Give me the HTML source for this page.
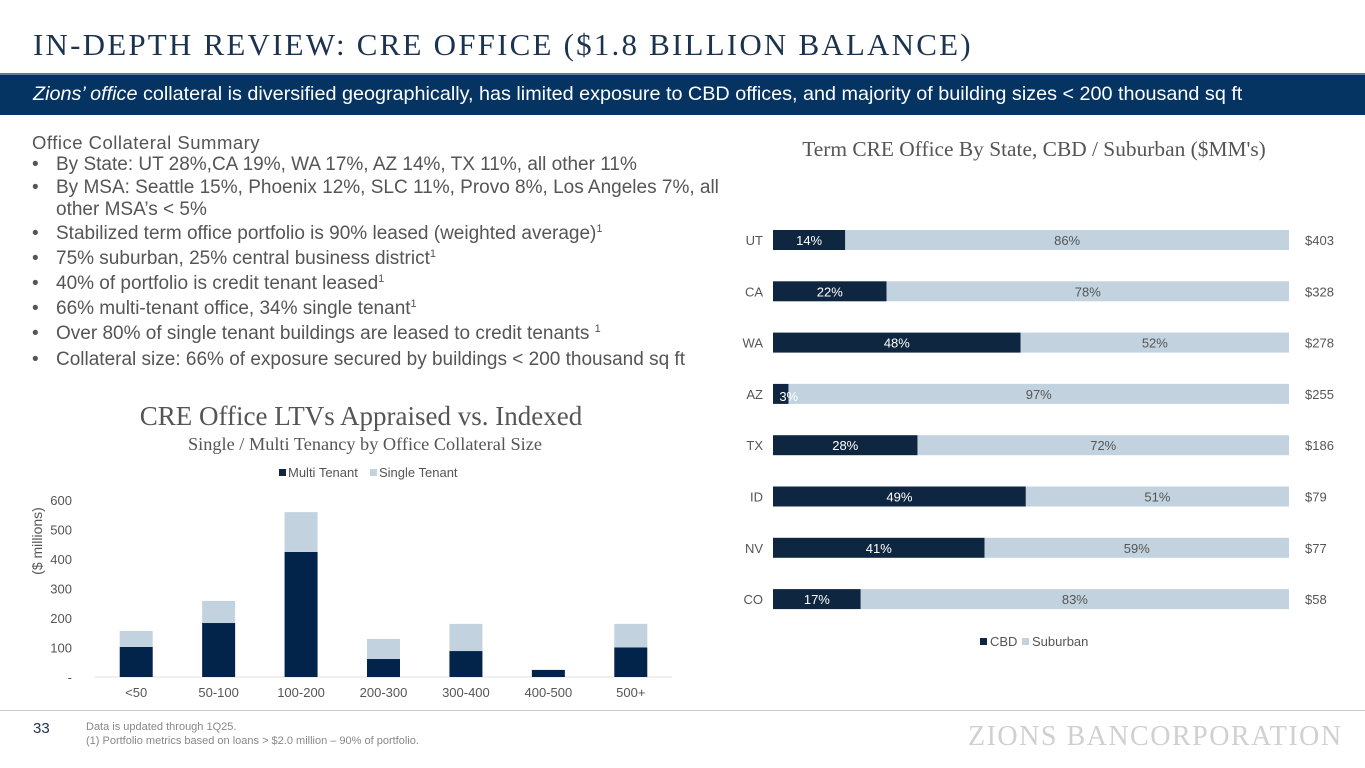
<!DOCTYPE html>
<html><head><meta charset="utf-8">
<style>
body{margin:0;width:1365px;height:768px;overflow:hidden;background:#fff;font-family:"Liberation Sans",sans-serif;position:relative}
.a{position:absolute;white-space:nowrap}
.bl{position:absolute;left:32px;font-size:19px;color:#555;white-space:nowrap}
.bl span.b{display:inline-block;width:24px}
sup{font-size:11px;vertical-align:7px}
</style></head><body>
<div class="a" style="left:33px;top:27px;font-family:'Liberation Serif',serif;font-size:31px;letter-spacing:2.2px;color:#1c3350">IN-DEPTH REVIEW: CRE OFFICE ($1.8 BILLION BALANCE)</div>
<div class="a" style="left:0;top:73px;width:1365px;height:42px;background:#053362;border-top:2px solid #5d7d98;box-sizing:border-box"></div>
<div class="a" style="left:33px;top:83px;font-size:19.8px;color:#fff"><i>Zions’ office</i> collateral is diversified geographically, has limited exposure to CBD offices, and majority of building sizes &lt; 200 thousand sq ft</div>

<div class="a" style="left:32px;top:132px;font-size:18.5px;color:#555;letter-spacing:0.5px">Office Collateral Summary</div>
<div class="bl" style="top:154px"><span class="b">•</span>By State: UT 28%,CA 19%, WA 17%, AZ 14%, TX 11%, all other 11%</div>
<div class="bl" style="top:177px"><span class="b">•</span>By MSA: Seattle 15%, Phoenix 12%, SLC 11%, Provo 8%, Los Angeles 7%, all</div>
<div class="bl" style="top:199px"><span class="b"></span>other MSA’s &lt; 5%</div>
<div class="bl" style="top:223px"><span class="b">•</span>Stabilized term office portfolio is 90% leased (weighted average)<sup>1</sup></div>
<div class="bl" style="top:248px"><span class="b">•</span>75% suburban, 25% central business district<sup>1</sup></div>
<div class="bl" style="top:273px"><span class="b">•</span>40% of portfolio is credit tenant leased<sup>1</sup></div>
<div class="bl" style="top:298px"><span class="b">•</span>66% multi-tenant office, 34% single tenant<sup>1</sup></div>
<div class="bl" style="top:323px"><span class="b">•</span>Over 80% of single tenant buildings are leased to credit tenants <sup>1</sup></div>
<div class="bl" style="top:349px"><span class="b">•</span>Collateral size: 66% of exposure secured by buildings &lt; 200 thousand sq ft</div>

<svg class="a" style="left:0;top:0" width="1365" height="768">
<g id="left"></g>
<g id="right"></g>
</svg>

<div class="a" style="left:0;top:710px;width:1365px;height:1px;background:#ccc"></div>
<div class="a" style="left:33px;top:720px;font-size:15px;color:#1c3350">33</div>
<div class="a" style="left:86px;top:720px;font-size:11px;color:#888;line-height:14px">Data is updated through 1Q25.<br>(1) Portfolio metrics based on loans &gt; $2.0 million – 90% of portfolio.</div>
<div class="a" style="left:968px;top:721px;font-family:'Liberation Serif',serif;font-size:28px;color:#d0d0d0;letter-spacing:1.5px">ZIONS BANCORPORATION</div>

<script>
const sizeCats=["<50","50-100","100-200","200-300","300-400","400-500","500+"];
const multiTenant=[102,183,424,61,88,24,100];
const singleTenant=[54,75,135,68,92,0,80];
const yTicks=[0,100,200,300,400,500,600];
const yTickLabels=["-","100","200","300","400","500","600"];

const states=["UT","CA","WA","AZ","TX","ID","NV","CO"];
const cbdPct=[14,22,48,3,28,49,41,17];
const suburbanPct=[86,78,52,97,72,51,59,83];
const balances=["$403","$328","$278","$255","$186","$79","$77","$58"];

const NS="http://www.w3.org/2000/svg";
function mk(parent,tag,attrs,txt){const e=document.createElementNS(NS,tag);for(const k in attrs)e.setAttribute(k,attrs[k]);if(txt!=null)e.textContent=txt;parent.appendChild(e);return e;}
const DARK="#0f2640",LIGHT="#c2d3df";

// Left chart
const L=document.getElementById('left');
const x0=95,x1=672,base=677,top600=500;
const yS=v=>base-v*(base-top600)/600;
const bw=(x1-x0)/sizeCats.length;
const xc=i=>x0+bw*(i+0.5);
let t;
t=mk(L,'text',{x:361,y:425,'text-anchor':'middle','font-family':'Liberation Serif,serif','font-size':27,fill:'#555'},'CRE Office LTVs Appraised vs. Indexed');

t=mk(L,'text',{x:365,y:450,'text-anchor':'middle','font-family':'Liberation Serif,serif','font-size':18.3,fill:'#555'},'Single / Multi Tenancy by Office Collateral Size');

t=mk(L,'rect',{x:279,y:469,width:7,height:7,fill:DARK});

t=mk(L,'text',{x:288,y:477,'font-size':13,fill:'#555'},'Multi Tenant');

t=mk(L,'rect',{x:370,y:469,width:7,height:7,fill:LIGHT});

t=mk(L,'text',{x:379,y:477,'font-size':13,fill:'#555'},'Single Tenant');

t=mk(L,'text',{x:0,y:0,transform:'translate(42,541) rotate(-90)','text-anchor':'middle','font-size':14,fill:'#555'},'($ millions)');

yTicks.forEach((v,i)=>{const e=mk(L,'text',{x:72,y:yS(v)+5,'text-anchor':'end','font-size':13,fill:'#555'},yTickLabels[i]);
});
t=mk(L,'line',{x1:x0,x2:x1,y1:base,y2:base,stroke:'#e0e0e0','stroke-width':1});

sizeCats.forEach((c,i)=>{
 const w=33,x=xc(i)-w/2;
 let r=mk(L,'rect',{x:x,y:yS(multiTenant[i]),width:w,height:base-yS(multiTenant[i]),fill:'#02244a'});
 
 r=mk(L,'rect',{x:x,y:yS(multiTenant[i]+singleTenant[i]),width:w,height:yS(multiTenant[i])-yS(multiTenant[i]+singleTenant[i]),fill:LIGHT});
 
 const e=mk(L,'text',{x:xc(i),y:697,'text-anchor':'middle','font-size':13,fill:'#555'},c);
 
});

// Right chart
const R=document.getElementById('right');
const rx0=773,rx1=1289,ry0=240,rstep=51.3,bh=20;
const xP=p=>rx0+(rx1-rx0)*p/100;
t=mk(R,'text',{x:1034,y:156,'text-anchor':'middle','font-family':'Liberation Serif,serif','font-size':21.4,fill:'#555'},"Term CRE Office By State, CBD / Suburban ($MM's)");

states.forEach((s,i)=>{
 const cy=ry0+rstep*i;
 let e=mk(R,'text',{x:763,y:cy+5,'text-anchor':'end','font-size':13,fill:'#555'},s);
 
 let r=mk(R,'rect',{x:rx0,y:cy-bh/2,width:xP(cbdPct[i])-rx0,height:bh,fill:DARK});
 
 r=mk(R,'rect',{x:xP(cbdPct[i]),y:cy-bh/2,width:xP(cbdPct[i]+suburbanPct[i])-xP(cbdPct[i]),height:bh,fill:LIGHT});
 
 e=mk(R,'text',{x:(rx0+xP(cbdPct[i]))/2+(cbdPct[i]<5?8:0),y:cy+5+(cbdPct[i]<5?2:0),'text-anchor':'middle','font-size':13,fill:'#fff'},cbdPct[i]+'%');
 
 e=mk(R,'text',{x:(xP(cbdPct[i])+xP(cbdPct[i]+suburbanPct[i]))/2,y:cy+5,'text-anchor':'middle','font-size':13,fill:'#555'},suburbanPct[i]+'%');
 
 e=mk(R,'text',{x:1305,y:cy+5,'font-size':13,fill:'#555'},balances[i]);
 
});
t=mk(R,'rect',{x:980,y:638,width:7,height:7,fill:DARK});

t=mk(R,'text',{x:990,y:646,'font-size':13,fill:'#555'},'CBD');

t=mk(R,'rect',{x:1022,y:638,width:7,height:7,fill:LIGHT});

t=mk(R,'text',{x:1032,y:646,'font-size':13,fill:'#555'},'Suburban');

</script>
</body></html>
